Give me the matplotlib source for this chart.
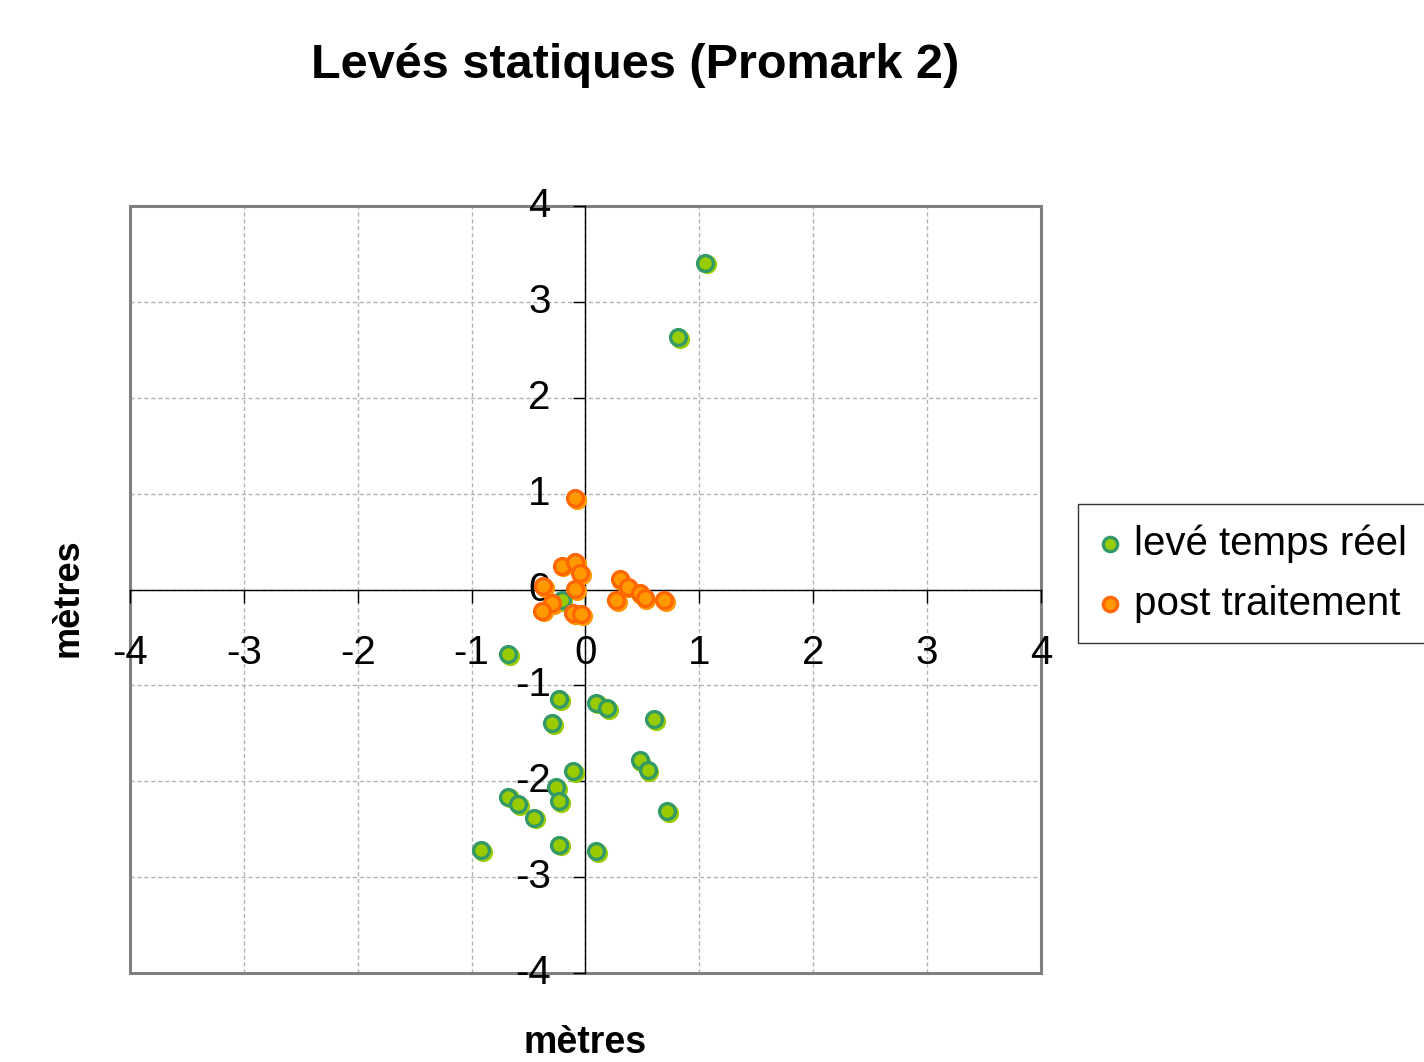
import matplotlib
matplotlib.use("Agg")
import matplotlib.pyplot as plt
import matplotlib.transforms as mtransforms
from matplotlib.patches import Rectangle

plt.rcParams['font.family'] = ['Liberation Sans', 'DejaVu Sans']
plt.rcParams['axes.unicode_minus'] = False

# levé temps réel (metres)
rt_x = [1.05, 0.81, -0.21, -0.68, -0.23, 0.09, 0.19, 0.60, -0.29, 0.475, 0.545,
        -0.11, -0.26, -0.23, -0.68, -0.59, -0.45, 0.72, -0.23, 0.09, -0.92]
rt_y = [3.41, 2.63, -0.11, -0.67, -1.14, -1.18, -1.24, -1.35, -1.39, -1.78, -1.885,
        -1.89, -2.06, -2.21, -2.16, -2.24, -2.38, -2.31, -2.66, -2.73, -2.72]

# post traitement (metres)
pt_x = [-0.09, -0.21, -0.09, -0.05, -0.37, -0.09, -0.29, -0.38, -0.11, -0.04,
        0.30, 0.37, 0.475, 0.52, 0.27, 0.69]
pt_y = [0.95, 0.25, 0.29, 0.17, 0.035, 0.007, -0.14, -0.22, -0.25, -0.26,
        0.11, 0.03, -0.04, -0.09, -0.11, -0.11]

ticks = [-4, -3, -2, -1, 0, 1, 2, 3, 4]

fig = plt.figure(figsize=(14.24, 10.62), dpi=100)
ax = fig.add_axes([0.0913, 0.0838, 0.731 - 0.0913, 0.806 - 0.0838])
ax.set_xlim(-4, 4)
ax.set_ylim(-4, 4)

# grid (drawn by hand so it stays under the frame and the zero axes)
ax.set_xticks(ticks)
ax.set_yticks(ticks)
for t in ticks:
    ax.axhline(t, color='#b3b3b3', linestyle=(0, (3, 2)), linewidth=1, zorder=1)
    ax.axvline(t, color='#b3b3b3', linestyle=(0, (3, 2)), linewidth=1, zorder=1)
ax.set_axisbelow(False)

# axes crossing at zero
for side in ['left', 'bottom']:
    ax.spines[side].set_position(('data', 0))
    ax.spines[side].set_color('black')
    ax.spines[side].set_linewidth(1)
ax.spines['top'].set_visible(False)
ax.spines['right'].set_visible(False)
ax.tick_params(axis='both', direction='out', length=9, width=1, color='black',
               labelsize=29)
ax.tick_params(axis='x', pad=23)
ax.tick_params(axis='y', pad=16)
ax.set_xticklabels([str(t) for t in ticks])
ax.set_yticklabels([str(t) for t in ticks])
# y labels sit a little above their gridline
lift = mtransforms.ScaledTranslation(0, 4 / 100, fig.dpi_scale_trans)
for lab in ax.get_yticklabels():
    lab.set_transform(lab.get_transform() + lift)

# outer grey frame
ax.add_patch(Rectangle((0, 0), 1, 1, transform=ax.transAxes, fill=False,
                       edgecolor='#808080', linewidth=2.2, zorder=2, clip_on=False))

# shadows then markers
shadow = mtransforms.offset_copy(ax.transData, fig=fig, x=1.3, y=-1.3, units='points')
ax.scatter(rt_x, rt_y, s=130, color='#99cc00', edgecolor='#99cc00', linewidth=2.4,
           transform=shadow, zorder=3)
ax.scatter(pt_x, pt_y, s=130, color='#ff9900', edgecolor='#ff9900', linewidth=2.4,
           transform=shadow, zorder=3)
ax.scatter(rt_x, rt_y, s=130, color='#99cc00', edgecolor='#339966', linewidth=2.4,
           zorder=4, label='levé temps réel')
ax.scatter(pt_x, pt_y, s=130, color='#ff9900', edgecolor='#ff6600', linewidth=2.4,
           zorder=4, label='post traitement')

fig.text(0.446, 0.938, 'Levés statiques (Promark 2)', fontsize=35, fontweight='bold',
         ha='center', va='center')
fig.text(0.411, 0.018, 'mètres', fontsize=27, fontweight='bold', ha='center', va='center')
fig.text(0.048, 0.437, 'mètres', fontsize=26, fontweight='bold', ha='center', va='center',
         rotation=90)

leg = fig.legend(loc='upper left', bbox_to_anchor=(1078 / 1424, 1 - 504 / 1062),
                 borderaxespad=0, fontsize=29, frameon=True, fancybox=False,
                 edgecolor='black', handletextpad=0.3, handlelength=0.6,
                 borderpad=0.5, labelspacing=0.55, markerscale=0.9)
leg.get_frame().set_linewidth(1)

fig.savefig('out.png', dpi=100)
